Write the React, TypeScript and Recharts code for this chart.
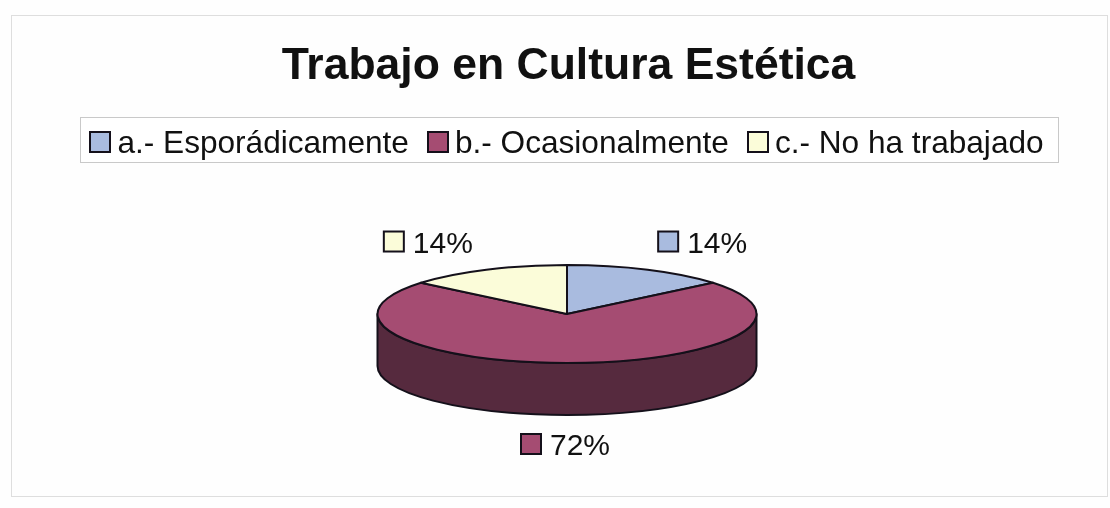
import React from "react";
import { PieChart, Pie, Cell, Legend } from "recharts";

const categories = ["a.- Esporádicamente", "b.- Ocasionalmente", "c.- No ha trabajado"];
const shares = [14, 72, 14];
const topColors = ["#a9bbdf", "#a54c72", "#fbfcd9"];
const wallColors = ["#7f8cab", "#562a3e", "#b9b9a0"];
const chartTitle = "Trabajo en Cultura Estética";

const rows = categories.map((name, i) => ({ name, value: shares[i] }));

const FONT = "'Liberation Sans', Arial, sans-serif";
const TILT = 49 / 189.5;
const DEPTH = 52;
const EDGE = "#14101a";

const pt = (cx: number, cy: number, r: number, deg: number) => {
  const a = (deg * Math.PI) / 180;
  return [cx + r * Math.cos(a), cy - r * TILT * Math.sin(a)];
};

const TopSlice = (p: any) => {
  const { cx, cy, outerRadius: r, startAngle, endAngle, fill } = p;
  const [x0, y0] = pt(cx, cy, r, startAngle);
  const [x1, y1] = pt(cx, cy, r, endAngle);
  const large = Math.abs(startAngle - endAngle) > 180 ? 1 : 0;
  return (
    <path
      d={`M${cx} ${cy}L${x0} ${y0}A${r} ${r * TILT} 0 ${large} 1 ${x1} ${y1}Z`}
      fill={fill}
      stroke={EDGE}
      strokeWidth={2}
      strokeLinejoin="round"
    />
  );
};

// Side wall: only the part of a slice's rim that faces the viewer (lower half of the ellipse).
const WallSlice = (p: any) => {
  const { cx, cy, outerRadius: r, startAngle, endAngle, fill } = p;
  const hi = Math.min(startAngle, 0);
  const lo = Math.max(endAngle, -180);
  if (hi <= lo) return <g />;
  const [x0, y0] = pt(cx, cy, r, hi);
  const [x1, y1] = pt(cx, cy, r, lo);
  const ry = r * TILT;
  return (
    <path
      d={`M${x0} ${y0}A${r} ${ry} 0 0 1 ${x1} ${y1}L${x1} ${y1 + DEPTH}A${r} ${ry} 0 0 0 ${x0} ${y0 + DEPTH}Z`}
      fill={fill}
      stroke={EDGE}
      strokeWidth={2}
      strokeLinejoin="round"
    />
  );
};

const SliceLabel = (p: any) => {
  const { cx, cy, midAngle, outerRadius: r, percent, index } = p;
  const a = (midAngle * Math.PI) / 180;
  const sin = Math.sin(a);
  const lx = cx + r * 1.7 * Math.cos(a);
  const ly = cy - 79 * sin + (sin < 0 ? DEPTH : 0);
  const size = 20;
  const left = lx - 46;
  return (
    <g>
      <rect
        x={left}
        y={ly - size / 2 - 1}
        width={size}
        height={size}
        fill={topColors[index]}
        stroke={EDGE}
        strokeWidth={2}
      />
      <text x={left + 29} y={ly + 10} fontFamily={FONT} fontSize={30} fill="#111">
        {`${Math.round(percent * 100)}%`}
      </text>
    </g>
  );
};

const LegendBox = ({ payload }: any) => {
  const seen = new Set<string>();
  const items = (payload || []).filter((e: any) => {
    if (seen.has(e.value)) return false;
    seen.add(e.value);
    return true;
  });
  return (
    <div
      style={{
        boxSizing: "border-box",
        width: 979,
        height: 46,
        border: "1.5px solid #c9c9c9",
        display: "flex",
        alignItems: "center",
        justifyContent: "center",
        fontFamily: FONT,
        fontSize: 31.6,
        color: "#111",
        whiteSpace: "nowrap",
        background: "#fff",
        paddingTop: 4,
        paddingRight: 6,
      }}
    >
      {items.map((e: any, i: number) => (
        <span key={e.value} style={{ display: "inline-flex", alignItems: "center", marginLeft: i ? 18 : 0 }}>
          <span
            style={{
              display: "inline-block",
              boxSizing: "border-box",
              width: 22,
              height: 22,
              background: topColors[i],
              border: "2px solid #14101a",
              marginRight: 6,
            }}
          />
          {e.value}
        </span>
      ))}
    </div>
  );
};

export default function App() {
  return (
    <div
      style={{
        position: "absolute",
        left: 0,
        top: 0,
        width: 1110,
        height: 508,
        background: "#fefefe",
        overflow: "hidden",
        filter: "blur(0.5px)",
      }}
    >
      <div
        style={{
          position: "absolute",
          left: 11,
          top: 15,
          width: 1097,
          height: 482,
          boxSizing: "border-box",
          border: "1.5px solid #dedede",
        }}
      />
      <div
        style={{
          position: "absolute",
          left: 0,
          width: 1137,
          top: 40,
          textAlign: "center",
          fontFamily: FONT,
          fontWeight: 700,
          fontSize: 44.5,
          lineHeight: "48px",
          color: "#111",
        }}
      >
        {chartTitle}
      </div>
      <PieChart width={1110} height={508} margin={{ top: 0, right: 0, bottom: 0, left: 0 }} style={{ position: "absolute", left: 0, top: 0 }}>
        <Pie
          data={rows}
          dataKey="value"
          nameKey="name"
          cx={567}
          cy={314}
          outerRadius={189.5}
          startAngle={90}
          endAngle={-270}
          paddingAngle={0}
          legendType="none"
          shape={WallSlice}
          label={false}
          labelLine={false}
          isAnimationActive={false}
        >
          {rows.map((r, i) => (
            <Cell key={r.name} fill={wallColors[i]} />
          ))}
        </Pie>
        <Pie
          data={rows}
          dataKey="value"
          nameKey="name"
          cx={567}
          cy={314}
          outerRadius={189.5}
          startAngle={90}
          endAngle={-270}
          paddingAngle={0}
          shape={TopSlice}
          label={SliceLabel}
          labelLine={false}
          isAnimationActive={false}
        >
          {rows.map((r, i) => (
            <Cell key={r.name} fill={topColors[i]} />
          ))}
        </Pie>
        <Legend
          content={<LegendBox />}
          wrapperStyle={{ position: "absolute", left: 80, top: 117, width: 979, height: 46, bottom: "auto" }}
        />
      </PieChart>
    </div>
  );
}
